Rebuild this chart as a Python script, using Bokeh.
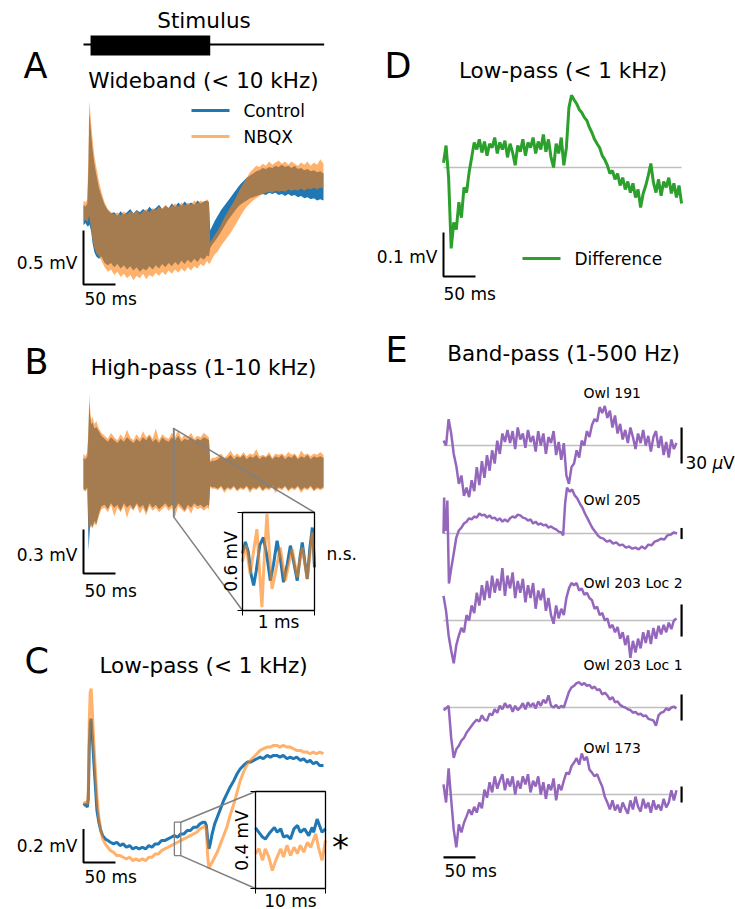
import numpy as np
from bokeh.plotting import figure
from bokeh.models import Range1d
from bokeh.core.properties import value
from bokeh.embed import file_html
from bokeh.resources import INLINE

# ------------------------------------------------------------------ data
STIM_ON_MS, STIM_OFF_MS = 11, 198
STIM_LINE_MS = [0, 376]

# envelopes of the dense wideband / high-pass traces (mV)
t_env = [0, 3, 6, 8, 9, 10, 12, 14, 17, 20, 24, 28] + list(range(33, 194, 5)) + [196, 198, 201] + list(range(205, 376, 5))

A_ctrl_hi = [0.10, 0.08, 0.11, 0.50, 0.94, 0.90, 0.75, 0.62, 0.48, 0.38, 0.26, 0.18,
             0.10, 0.05, 0.02, 0.03, 0.00, 0.04, 0.01, 0.03, 0.06, 0.02,
             0.05, 0.03, 0.06, 0.04, 0.08, 0.05, 0.07, 0.10, 0.06, 0.09,
             0.07, 0.11, 0.08, 0.12, 0.09, 0.13, 0.10, 0.12, 0.10, 0.14,
             0.11, 0.13, 0.14,
             0.12, -0.14, -0.10,
             -0.05, 0.00, 0.05, 0.09, 0.13, 0.17, 0.21, 0.25, 0.29, 0.32,
             0.35, 0.37, 0.39, 0.41, 0.42, 0.44, 0.43, 0.45, 0.44, 0.46,
             0.45, 0.47, 0.45, 0.46, 0.44, 0.46, 0.43, 0.44, 0.42, 0.43,
             0.41, 0.42, 0.40, 0.41, 0.39]
A_ctrl_lo = [-0.09, -0.07, -0.10, -0.10, -0.08, -0.10, -0.15, -0.25, -0.34, -0.38, -0.40, -0.38,
             -0.44, -0.46, -0.44, -0.48, -0.45, -0.49, -0.46, -0.50, -0.47, -0.51,
             -0.48, -0.52, -0.49, -0.51, -0.47, -0.50, -0.46, -0.49, -0.45, -0.48,
             -0.44, -0.47, -0.43, -0.46, -0.42, -0.45, -0.41, -0.44, -0.40, -0.43,
             -0.39, -0.41, -0.37,
             -0.38, -0.30, -0.27,
             -0.24, -0.20, -0.15, -0.10, -0.05, -0.01, 0.03, 0.07, 0.10, 0.12,
             0.14, 0.16, 0.17, 0.18, 0.19, 0.20, 0.19, 0.21, 0.20, 0.21,
             0.19, 0.20, 0.18, 0.20, 0.18, 0.19, 0.17, 0.18, 0.16, 0.17,
             0.15, 0.16, 0.14, 0.15, 0.14]
A_nbqx_hi = [0.14, 0.12, 0.15, 0.70, 1.06, 1.00, 0.85, 0.72, 0.55, 0.45, 0.32, 0.22,
             0.12, 0.06, 0.03, 0.01, 0.03, 0.00, 0.04, 0.01, 0.04, 0.02,
             0.05, 0.01, 0.04, 0.06, 0.03, 0.07, 0.05, 0.08, 0.06, 0.10,
             0.07, 0.09, 0.11, 0.08, 0.12, 0.09, 0.12, 0.10, 0.14, 0.11,
             0.14, 0.12, 0.15,
             0.13, -0.25, -0.22,
             -0.18, -0.14, -0.08, -0.02, 0.03, 0.08, 0.13, 0.19, 0.25, 0.30,
             0.35, 0.40, 0.43, 0.46, 0.45, 0.48, 0.46, 0.50, 0.47, 0.49,
             0.51, 0.48, 0.50, 0.47, 0.50, 0.48, 0.46, 0.49, 0.47, 0.50,
             0.46, 0.49, 0.47, 0.52, 0.48]
A_nbqx_lo = [-0.05, -0.04, -0.06, -0.02, 0.00, -0.05, -0.12, -0.22, -0.30, -0.35, -0.38, -0.42,
             -0.48, -0.52, -0.50, -0.55, -0.52, -0.57, -0.54, -0.58, -0.55, -0.60,
             -0.56, -0.58, -0.54, -0.59, -0.55, -0.57, -0.53, -0.56, -0.52, -0.55,
             -0.51, -0.54, -0.50, -0.53, -0.49, -0.52, -0.48, -0.51, -0.47, -0.49,
             -0.45, -0.47, -0.42,
             -0.45, -0.44, -0.40,
             -0.36, -0.33, -0.28, -0.24, -0.20, -0.16, -0.11, -0.06, -0.01, 0.04,
             0.08, 0.11, 0.14, 0.16, 0.18, 0.20, 0.21, 0.22, 0.21, 0.23,
             0.22, 0.23, 0.22, 0.24, 0.23, 0.24, 0.23, 0.25, 0.23, 0.25,
             0.24, 0.26, 0.24, 0.26, 0.25]

B_ctrl_hi = [0.10, 0.09, 0.11, 0.30, 0.48, 0.40, 0.33, 0.34, 0.30, 0.31, 0.28, 0.25,
             0.23, 0.21, 0.24, 0.22, 0.20, 0.23, 0.21, 0.24, 0.22, 0.20,
             0.23, 0.21, 0.24, 0.22, 0.25, 0.21, 0.23, 0.20, 0.24, 0.22,
             0.21, 0.24, 0.22, 0.25, 0.21, 0.23, 0.22, 0.24, 0.21, 0.23,
             0.22, 0.24, 0.23,
             0.22, 0.07, 0.08,
             0.08, 0.09, 0.11, 0.09, 0.10, 0.12, 0.09, 0.11, 0.10, 0.12,
             0.09, 0.11, 0.10, 0.12, 0.09, 0.11, 0.10, 0.12, 0.09, 0.11,
             0.10, 0.12, 0.09, 0.11, 0.10, 0.12, 0.09, 0.11, 0.10, 0.12,
             0.09, 0.11, 0.10, 0.11, 0.10]
B_ctrl_lo = [-0.11, -0.12, -0.10, -0.53, -0.45, -0.38, -0.35, -0.37, -0.33, -0.35, -0.28, -0.23,
             -0.22, -0.25, -0.21, -0.24, -0.22, -0.26, -0.21, -0.24, -0.22, -0.25,
             -0.21, -0.24, -0.22, -0.27, -0.21, -0.24, -0.22, -0.25, -0.23, -0.21,
             -0.24, -0.22, -0.25, -0.21, -0.23, -0.26, -0.22, -0.24, -0.21, -0.23,
             -0.22, -0.24, -0.22,
             -0.23, -0.09, -0.10,
             -0.10, -0.11, -0.09, -0.12, -0.10, -0.11, -0.09, -0.12, -0.10, -0.11,
             -0.09, -0.12, -0.10, -0.11, -0.09, -0.12, -0.10, -0.11, -0.09, -0.12,
             -0.10, -0.11, -0.09, -0.12, -0.10, -0.11, -0.09, -0.12, -0.10, -0.11,
             -0.09, -0.12, -0.10, -0.11, -0.10]
B_nbqx_hi = [0.13, 0.11, 0.14, 0.35, 0.54, 0.45, 0.36, 0.38, 0.33, 0.35, 0.30, 0.27,
             0.25, 0.23, 0.27, 0.24, 0.22, 0.26, 0.23, 0.29, 0.24, 0.22,
             0.26, 0.23, 0.28, 0.24, 0.26, 0.23, 0.30, 0.22, 0.26, 0.24,
             0.23, 0.27, 0.24, 0.29, 0.23, 0.26, 0.24, 0.27, 0.23, 0.25,
             0.24, 0.27, 0.25,
             0.24, 0.08, 0.10,
             0.10, 0.11, 0.13, 0.10, 0.12, 0.15, 0.11, 0.13, 0.11, 0.14,
             0.11, 0.13, 0.12, 0.16, 0.11, 0.12, 0.11, 0.14, 0.10, 0.13,
             0.12, 0.13, 0.11, 0.14, 0.12, 0.13, 0.10, 0.15, 0.12, 0.13,
             0.11, 0.13, 0.12, 0.14, 0.12]
B_nbqx_lo = [-0.12, -0.13, -0.11, -0.40, -0.38, -0.36, -0.37, -0.38, -0.35, -0.36, -0.30, -0.25,
             -0.24, -0.27, -0.22, -0.30, -0.24, -0.27, -0.23, -0.31, -0.24, -0.26,
             -0.22, -0.28, -0.24, -0.29, -0.23, -0.26, -0.24, -0.27, -0.25, -0.23,
             -0.26, -0.24, -0.30, -0.23, -0.25, -0.27, -0.24, -0.28, -0.23, -0.25,
             -0.24, -0.26, -0.24,
             -0.25, -0.10, -0.11,
             -0.11, -0.12, -0.10, -0.14, -0.11, -0.12, -0.10, -0.13, -0.11, -0.12,
             -0.10, -0.14, -0.11, -0.12, -0.10, -0.13, -0.11, -0.12, -0.10, -0.14,
             -0.11, -0.12, -0.10, -0.13, -0.11, -0.12, -0.10, -0.14, -0.11, -0.12,
             -0.10, -0.13, -0.11, -0.12, -0.11]

# high-pass inset: 1 ms window (time within window, ms) in mV
BI_WINDOW_MS = (140.6, 141.6)
Bi_ctrl_t = [0.00, 0.04, 0.08, 0.12, 0.155, 0.19, 0.24, 0.29, 0.34, 0.386, 0.43, 0.48, 0.525,
             0.57, 0.62, 0.665, 0.71, 0.76, 0.80, 0.83, 0.865, 0.90, 0.935, 0.97, 1.00]
Bi_ctrl_v = [0.05, 0.12, 0.06, -0.08, -0.147, -0.06, 0.10, 0.147, 0.03, -0.117, -0.02, 0.127, 0.02,
             -0.127, -0.02, 0.097, 0.00, -0.117, 0.03, 0.117, 0.00, -0.107, 0.08, 0.208, -0.036]
Bi_nbqx_t = [0.00, 0.05, 0.107, 0.15, 0.20, 0.235, 0.27, 0.30, 0.34, 0.375, 0.41, 0.47, 0.525,
             0.56, 0.595, 0.64, 0.69, 0.725, 0.76, 0.795, 0.83, 0.865, 0.90, 0.935, 0.97, 1.00]
Bi_nbqx_v = [0.00, 0.10, -0.076, 0.05, 0.198, -0.05, -0.28, 0.00, 0.29, 0.05, -0.168, -0.04, 0.086,
             -0.02, -0.117, -0.02, 0.076, -0.01, -0.097, 0.00, 0.086, -0.01, -0.107, 0.04, 0.178, 0.00]

# low-pass traces (mV)
t_C = [0, 3, 6, 7.5, 9, 10.5, 12, 14, 16, 18, 21, 24, 27, 30, 34, 38, 42, 47, 52, 57,
       62, 67, 72, 77, 82, 87, 92, 97, 102, 107, 112, 117, 122, 127, 132, 137, 142, 147, 152, 157,
       162, 167, 172, 177, 182, 187, 190, 192, 194, 196, 198, 201, 205, 209, 214, 219, 224, 229, 235, 240,
       245, 250, 256, 261, 266, 271, 276, 281, 287, 292, 297, 302, 307, 312, 318, 323, 328, 333, 339, 344,
       349, 354, 359, 364, 369, 375]
C_ctrl = [0.00, 0.01, -0.01, 0.04, 0.35, 0.50, 0.52, 0.40, 0.27, 0.15,
          -0.03, -0.10, -0.15, -0.18, -0.20, -0.21, -0.22, -0.23, -0.22, -0.24,
          -0.23, -0.25, -0.24, -0.26, -0.25, -0.26, -0.25, -0.26, -0.24, -0.25,
          -0.23, -0.23, -0.21, -0.21, -0.20, -0.19, -0.18, -0.19, -0.17, -0.17,
          -0.15, -0.15, -0.13, -0.13, -0.11, -0.10, -0.10, -0.12, -0.20, -0.26,
          -0.23, -0.17, -0.11, -0.07, -0.02, 0.03, 0.07, 0.11, 0.15, 0.19,
          0.22, 0.24, 0.26, 0.26, 0.27, 0.28, 0.29, 0.28, 0.30, 0.29,
          0.30, 0.30, 0.29, 0.30, 0.28, 0.29, 0.28, 0.29, 0.27, 0.28,
          0.26, 0.27, 0.25, 0.26, 0.24, 0.24]
C_nbqx = [0.01, 0.02, 0.01, 0.08, 0.50, 0.68, 0.70, 0.55, 0.38, 0.25,
          0.05, -0.07, -0.15, -0.20, -0.23, -0.25, -0.27, -0.28, -0.30, -0.30,
          -0.31, -0.32, -0.31, -0.33, -0.32, -0.33, -0.32, -0.33, -0.31, -0.31,
          -0.29, -0.29, -0.27, -0.26, -0.25, -0.24, -0.23, -0.22, -0.21, -0.20,
          -0.19, -0.18, -0.17, -0.16, -0.14, -0.13, -0.12, -0.15, -0.30, -0.38,
          -0.36, -0.34, -0.31, -0.28, -0.23, -0.18, -0.13, -0.06, 0.01, 0.08,
          0.15, 0.20, 0.25, 0.27, 0.29, 0.31, 0.33, 0.34, 0.35, 0.35,
          0.36, 0.36, 0.35, 0.36, 0.35, 0.35, 0.34, 0.33, 0.33, 0.32,
          0.32, 0.31, 0.32, 0.31, 0.32, 0.31]

# low-pass inset: 10 ms window (mV)
CI_WINDOW_MS = (142, 152)
CI_RANGE_MV = (-0.30, -0.10)
Ci_ctrl_t = [142.0, 143.0, 143.4, 144.1, 144.7, 145.1, 145.6, 146.0, 146.5, 147.0, 147.5,
             148.0, 148.4, 149.0, 149.6, 150.1, 150.3, 150.8, 151.5, 152.0]
Ci_ctrl_v = [-0.175, -0.194, -0.198, -0.184, -0.174, -0.184, -0.177, -0.194, -0.191, -0.198, -0.177,
             -0.170, -0.184, -0.177, -0.191, -0.174, -0.184, -0.157, -0.184, -0.177]
Ci_nbqx_t = [142.0, 142.5, 143.0, 143.4, 143.9, 144.4, 144.9, 145.6, 146.0, 146.5, 147.0,
             147.5, 148.0, 148.4, 148.9, 149.4, 149.9, 150.6, 151.0, 151.5, 152.0]
Ci_nbqx_v = [-0.228, -0.218, -0.242, -0.218, -0.235, -0.263, -0.242, -0.218, -0.235, -0.211, -0.232,
             -0.215, -0.228, -0.211, -0.225, -0.205, -0.215, -0.187, -0.215, -0.242, -0.201]

# difference (mV)
t_D = list(range(0, 373, 4))
D_diff = [0.011, 0.050, -0.023, -0.184, -0.125, -0.141, -0.079, -0.114, -0.045, -0.057,
          -0.011, 0.023, 0.057, 0.041, 0.064, 0.034, 0.059, 0.027, 0.054, 0.045,
          0.068, 0.032, 0.057, 0.041, 0.061, 0.023, 0.054, 0.034, 0.005, 0.050,
          0.036, 0.064, 0.027, 0.057, 0.045, 0.068, 0.032, 0.059, 0.041, 0.075,
          0.036, 0.064, 0.023, 0.000, 0.054, 0.032, 0.068, 0.005, 0.045, 0.136,
          0.164, 0.154, 0.145, 0.132, 0.125, 0.114, 0.107, 0.091, 0.079, 0.064,
          0.054, 0.045, 0.027, 0.018, 0.005, -0.014, -0.007, -0.027, -0.014, -0.041,
          -0.023, -0.050, -0.032, -0.057, -0.036, -0.068, -0.050, -0.091, -0.059, -0.041,
          -0.018, 0.009, -0.034, -0.057, -0.027, -0.064, -0.032, -0.045, -0.023, -0.059,
          -0.036, -0.068, -0.041, -0.082]

# band-pass traces (uV)
t_E = list(range(0, 365, 4))
E_labels = ["Owl 191", "Owl 205", "Owl 203 Loc 2", "Owl 203 Loc 1", "Owl 173"]
E_owl191 = [4, 0, 22, 10, -7, -17, -32, -25, -42, -35,
            -43, -29, -38, -18, -33, -13, -27, -8, -21, -4,
            -15, 4, -7, 10, 3, 13, 2, 12, -3, 15,
            5, 10, -2, 13, 3, 8, -5, 12, 0, 10,
            -7, 7, 2, 12, -8, 3, -12, 2, -25, -32,
            -18, -15, -4, -10, 4, 0, 12, 7, 17, 22,
            20, 32, 27, 33, 23, 29, 15, 25, 10, 18,
            5, 13, 2, 15, 7, -3, 10, 2, 13, 0,
            8, -5, 7, 12, -2, 8, -8, 3, -10, 5,
            -3, 2]
t_E205 = [0, 1, 2, 4, 6, 8.5, 12, 16, 20, 24,
          28, 32, 36, 40, 44, 48, 52, 56, 60, 64,
          68, 72, 76, 80, 84, 88, 92, 96, 100, 104,
          108, 112, 116, 120, 124, 128, 132, 136, 140, 144,
          148, 152, 156, 160, 164, 168, 172, 176, 180, 184,
          187, 190, 193, 197, 201, 205, 209, 213, 217, 221,
          225, 229, 233, 237, 241, 245, 250, 255, 260, 265,
          270, 275, 280, 285, 290, 295, 300, 305, 310, 315,
          320, 325, 330, 335, 340, 345, 350, 355, 360, 365]
E_owl205 = [0, 97, 14, 8, 89, -135, -95, -54, -11, 8,
            16, 27, 32, 41, 38, 46, 43, 54, 49, 51,
            43, 49, 41, 43, 35, 41, 32, 38, 32, 41,
            46, 43, 51, 49, 43, 41, 35, 38, 27, 32,
            24, 27, 22, 24, 16, 19, 14, 11, 5, 3,
            -5, 81, 124, 113, 119, 103, 95, 81, 70, 54,
            41, 27, 14, 5, -5, -11, -14, -22, -19, -27,
            -24, -32, -30, -38, -35, -41, -38, -43, -35, -41,
            -30, -32, -22, -19, -14, -16, -5, -3, 3, 0]
E_owl203b = [23, 9, -14, -28, -40, -23, -14, -7, -11, 5,
             0, 14, 7, 26, 14, 33, 19, 37, 21, 42,
             26, 39, 28, 49, 23, 42, 30, 45, 21, 37,
             26, 39, 17, 33, 21, 35, 11, 28, 19, 30,
             9, 21, 5, -3, 14, 2, 11, 5, 21, 30,
             35, 33, 35, 28, 30, 24, 26, 21, 19, 11,
             13, 5, 7, 0, 2, -7, -4, -11, -6, -17,
             -11, -23, -14, -35, -19, -30, -17, -26, -11, -21,
             -9, -22, -7, -17, -5, -13, -4, -11, -2, -8,
             0, 2]
E_owl203a = [-3, -1, 2, -35, -58, -48, -44, -38, -35, -29,
             -25, -21, -17, -14, -16, -9, -14, -15, -7, -9,
             -2, -6, 2, -2, 5, 0, 3, -5, 2, -3,
             0, 5, -2, 6, 1, 5, -1, 7, 2, 9,
             5, 14, 2, 0, 3, -1, 2, 0, 9, 18,
             23, 25, 28, 29, 26, 28, 25, 26, 22, 24,
             20, 21, 15, 17, 14, 9, 12, 6, 7, 3,
             1, 0, -2, -3, -6, -5, -8, -7, -10, -9,
             -13, -14, -15, -21, -9, -6, -5, -1, -3, 0,
             1, -1]
E_owl173 = [19, -15, 49, -9, -66, -99, -56, -71, -53, -41,
            -28, -38, -23, -34, -15, -26, 9, -6, 23, 4,
            34, 11, 26, 38, 8, 30, 15, 34, 0, 26,
            11, 34, 19, 38, 4, 26, 15, 34, 0, 23,
            -8, 19, 8, 30, -11, 19, 8, 26, 41, 38,
            53, 60, 68, 56, 77, 64, 71, 47, 41, 34,
            38, 26, 15, -4, -15, -28, -11, -30, -19, -34,
            -15, -26, -36, -11, -28, -4, -23, -32, -8, -26,
            -15, -34, -11, -28, -19, -30, -8, -24, -15, 8,
            -11, 8]

for nm, a, b in [("A1", t_env, A_ctrl_hi), ("A2", t_env, A_ctrl_lo), ("A3", t_env, A_nbqx_hi),
                 ("A4", t_env, A_nbqx_lo), ("B1", t_env, B_ctrl_hi), ("B2", t_env, B_ctrl_lo),
                 ("B3", t_env, B_nbqx_hi), ("B4", t_env, B_nbqx_lo), ("Bi1", Bi_ctrl_t, Bi_ctrl_v),
                 ("Bi2", Bi_nbqx_t, Bi_nbqx_v), ("C1", t_C, C_ctrl), ("C2", t_C, C_nbqx),
                 ("Ci1", Ci_ctrl_t, Ci_ctrl_v), ("Ci2", Ci_nbqx_t, Ci_nbqx_v), ("D", t_D, D_diff),
                 ("E1", t_E, E_owl191), ("E2", t_E205, E_owl205), ("E3", t_E, E_owl203b),
                 ("E4", t_E, E_owl203a), ("E5", t_E, E_owl173)]:
    if len(a) != len(b):
        raise ValueError(f"{nm}: {len(a)} vs {len(b)}")

# ------------------------------------------------------------------ style
W, H = 735, 909
FONT = "DejaVu Sans"
BLUE, ORANGE, GREEN, PURPLE = "#1f77b4", "#ff7f0e", "#2ca02c", "#9467bd"
NB_ALPHA = 0.6
BASE_GRAY, CONN_GRAY = "#bfbfbf", "#808080"

# panel placement: screen x = x0 + xk * t ; screen y = y0 - yk * v
PANELS = {
    "A": (83, 0.64, 215, 108),
    "B": (83, 0.64, 472, 147),
    "Bi": (242, 72, 561, 163.3),
    "C": (83, 0.64, 805, 167),
    "Ci": (255 - 7 * 142, 7, 742.5, 485),
    "D": (443, 0.64, 167, 440),
    "E1": (443, 0.64, 445, 1.2),
    "E2": (443, 0.64, 533, 0.37),
    "E3": (443, 0.64, 620, 1.07),
    "E4": (443, 0.64, 707, 0.87),
    "E5": (443, 0.64, 794, 0.533),
}

p = figure(width=W, height=H, x_range=Range1d(0, W), y_range=Range1d(H, 0),
           x_axis_type=None, y_axis_type=None, output_backend="svg",
           toolbar_location=None, min_border=0)
p.outline_line_color = None
p.background_fill_color = "white"
p.border_fill_color = "white"

for name, (x0, xk, y0, yk) in PANELS.items():
    s = -x0 / xk
    p.extra_x_ranges[name] = Range1d(start=s, end=s + W / xk)
    p.extra_y_ranges[name] = Range1d(start=(y0 - H) / yk, end=y0 / yk)


def R(name):
    return dict(x_range_name=name, y_range_name=name)


def sx(name, t):
    return PANELS[name][0] + PANELS[name][1] * t


def sy(name, v):
    return PANELS[name][2] - PANELS[name][3] * v


def txt(x, y, s, size, align="left", angle=0.0, style="normal"):
    p.text(x=[x], y=[y], text=[s], text_font=value(FONT), text_font_size=value(f"{size}px"),
           text_align=align, text_baseline="middle", angle=angle, text_color="black",
           text_font_style=style)


def scalebar(name, t, v, dt, dv, lw=2):
    p.line(x=[t, t, t + dt], y=[v + dv, v, v], line_color="black", line_width=lw, **R(name))


# ------------------------------------------------------------------ stimulus
p.line(x=STIM_LINE_MS, y=[44, 44], line_color="black", line_width=2, x_range_name="A")
p.quad(left=[STIM_ON_MS], right=[STIM_OFF_MS], top=[35], bottom=[55], fill_color="black",
       line_color=None, x_range_name="A")

# ------------------------------------------------------------------ A
p.varea(x=t_env, y1=A_ctrl_lo, y2=A_ctrl_hi, fill_color=BLUE, **R("A"))
p.varea(x=t_env, y1=A_nbqx_lo, y2=A_nbqx_hi, fill_color=ORANGE, fill_alpha=NB_ALPHA, **R("A"))
scalebar("A", 0, -0.64, 50, 0.5)

# legend A
p.segment(x0=[191], x1=[229], y0=[110], y1=[110], line_color=BLUE, line_width=3)
p.segment(x0=[191], x1=[229], y0=[136], y1=[136], line_color=ORANGE, line_alpha=NB_ALPHA, line_width=3)

# ------------------------------------------------------------------ B
p.varea(x=t_env, y1=B_ctrl_lo, y2=B_ctrl_hi, fill_color=BLUE, **R("B"))
p.varea(x=t_env, y1=B_nbqx_lo, y2=B_nbqx_hi, fill_color=ORANGE, fill_alpha=NB_ALPHA, **R("B"))
scalebar("B", 0, -0.687, 50, 0.3)

bw0, bw1 = BI_WINDOW_MS
p.quad(left=[bw0], right=[bw1], bottom=[-0.3], top=[0.3], fill_color=None,
       line_color=CONN_GRAY, line_width=1.3, **R("B"))
p.segment(x0=[sx("B", bw0), sx("B", bw0)], y0=[sy("B", 0.3), sy("B", -0.3)],
          x1=[sx("Bi", 1.0), sx("Bi", 0.0)], y1=[sy("Bi", 0.3), sy("Bi", -0.3)],
          line_color=CONN_GRAY, line_width=1.5)
p.quad(left=[0], right=[1], bottom=[-0.3], top=[0.3], fill_color="white", line_color=None, **R("Bi"))
p.line(x=Bi_ctrl_t, y=Bi_ctrl_v, line_color=BLUE, line_width=3, **R("Bi"))
p.line(x=Bi_nbqx_t, y=Bi_nbqx_v, line_color=ORANGE, line_alpha=NB_ALPHA, line_width=3, **R("Bi"))
p.quad(left=[0], right=[1], bottom=[-0.3], top=[0.3], fill_color=None, line_color="black",
       line_width=1.3, **R("Bi"))
bx0, bx1, by0, by1 = sx("Bi", 0), sx("Bi", 1), sy("Bi", 0.3), sy("Bi", -0.3)
p.segment(x0=[bx0, bx1, bx0 - 5, bx0 - 5], y0=[by1, by1, by0, by1],
          x1=[bx0, bx1, bx0, bx0], y1=[by1 + 5, by1 + 5, by0, by1], line_color="black", line_width=1)

# ------------------------------------------------------------------ C
p.line(x=t_C, y=C_ctrl, line_color=BLUE, line_width=3, **R("C"))
p.line(x=t_C, y=C_nbqx, line_color=ORANGE, line_alpha=NB_ALPHA, line_width=3, **R("C"))
scalebar("C", 0, -0.341, 50, 0.2)

cw0, cw1 = CI_WINDOW_MS
cv0, cv1 = CI_RANGE_MV
p.quad(left=[cw0], right=[cw1], bottom=[cv0], top=[cv1], fill_color=None,
       line_color=CONN_GRAY, line_width=1.3, **R("C"))
p.segment(x0=[sx("C", cw1), sx("C", cw1)], y0=[sy("C", cv1), sy("C", cv0)],
          x1=[sx("Ci", cw0), sx("Ci", cw0)], y1=[sy("Ci", cv1), sy("Ci", cv0)],
          line_color=CONN_GRAY, line_width=1.5)
p.quad(left=[cw0], right=[cw1], bottom=[cv0], top=[cv1], fill_color="white", line_color=None, **R("Ci"))
p.line(x=Ci_ctrl_t, y=Ci_ctrl_v, line_color=BLUE, line_width=3, **R("Ci"))
p.line(x=Ci_nbqx_t, y=Ci_nbqx_v, line_color=ORANGE, line_alpha=NB_ALPHA, line_width=3, **R("Ci"))
p.quad(left=[cw0], right=[cw1], bottom=[cv0], top=[cv1], fill_color=None, line_color="black",
       line_width=1.3, **R("Ci"))
cx0, cx1, cy0, cy1 = sx("Ci", cw0), sx("Ci", cw1), sy("Ci", cv1), sy("Ci", cv0)
p.segment(x0=[cx0, cx1, cx0 - 5, cx0 - 5], y0=[cy1, cy1, cy0, cy1],
          x1=[cx0, cx1, cx0, cx0], y1=[cy1 + 5, cy1 + 5, cy0, cy1], line_color="black", line_width=1)

# ------------------------------------------------------------------ D
p.line(x=[t_D[0], t_D[-1]], y=[0, 0], line_color=BASE_GRAY, line_width=1.5, **R("D"))
p.line(x=t_D, y=D_diff, line_color=GREEN, line_width=3, **R("D"))
scalebar("D", 0, -0.248, 50, 0.1)
p.segment(x0=[522], x1=[560], y0=[258], y1=[258], line_color=GREEN, line_width=3)

# ------------------------------------------------------------------ E
E_series = [("E1", t_E, E_owl191), ("E2", t_E205, E_owl205), ("E3", t_E, E_owl203b),
            ("E4", t_E, E_owl203a), ("E5", t_E, E_owl173)]
for nm, tt, vv in E_series:
    p.line(x=[0, 364], y=[0, 0], line_color=BASE_GRAY, line_width=1.5, **R(nm))
for nm, tt, vv in E_series:
    p.line(x=tt, y=vv, line_color=PURPLE, line_width=2.5, **R(nm))
    p.line(x=[372, 372], y=[-15, 15], line_color="black", line_width=2.2, **R(nm))
p.line(x=[0, 50], y=[-118, -118], line_color="black", line_width=2.2, **R("E5"))

# ------------------------------------------------------------------ texts (vertical centres)
TITLE, LAB, LET = 21.5, 17, 35
txt(203.5, 20, "Stimulus", TITLE, "center")
txt(23, 65, "A", LET)
txt(203, 80, "Wideband (< 10 kHz)", TITLE, "center")
txt(243, 110, "Control", LAB)
txt(243, 136, "NBQX", LAB)
txt(77, 262, "0.5 mV", LAB, "right")
txt(84, 298.5, "50 ms", LAB)

txt(24, 361, "B", LET)
txt(203, 366.5, "High-pass (1-10 kHz)", TITLE, "center")
txt(77, 554.5, "0.3 mV", LAB, "right")
txt(84, 590.5, "50 ms", LAB)
txt(230, 561, "0.6 mV", LAB, "center", np.pi / 2)
txt(278, 621, "1 ms", LAB, "center")
txt(326, 553, "n.s.", LAB)

txt(24, 660, "C", LET)
txt(203, 665, "Low-pass (< 1 kHz)", TITLE, "center")
txt(77, 845, "0.2 mV", LAB, "right")
txt(84, 876.5, "50 ms", LAB)
txt(241, 840, "0.4 mV", LAB, "center", np.pi / 2)
txt(290, 900, "10 ms", LAB, "center")
txt(340, 846, "*", 34, "center")

txt(384, 65, "D", LET)
txt(562.5, 70, "Low-pass (< 1 kHz)", TITLE, "center")
txt(437, 256.5, "0.1 mV", LAB, "right")
txt(443, 293.5, "50 ms", LAB)
txt(574, 258.5, "Difference", LAB)

txt(385, 349, "E", LET)
txt(563, 352.5, "Band-pass (1-500 Hz)", TITLE, "center")
for lab, yc in zip(E_labels, [392.5, 499.5, 582.5, 664.5, 747.5]):
    txt(583, yc, lab, 14)
txt(685, 462, "30", LAB)
txt(712, 462, "\u03bc", LAB, style="italic")
txt(722.5, 462, "V", LAB)
txt(444, 870.5, "50 ms", LAB)

open("out.html", "w").write(file_html(p, INLINE))
